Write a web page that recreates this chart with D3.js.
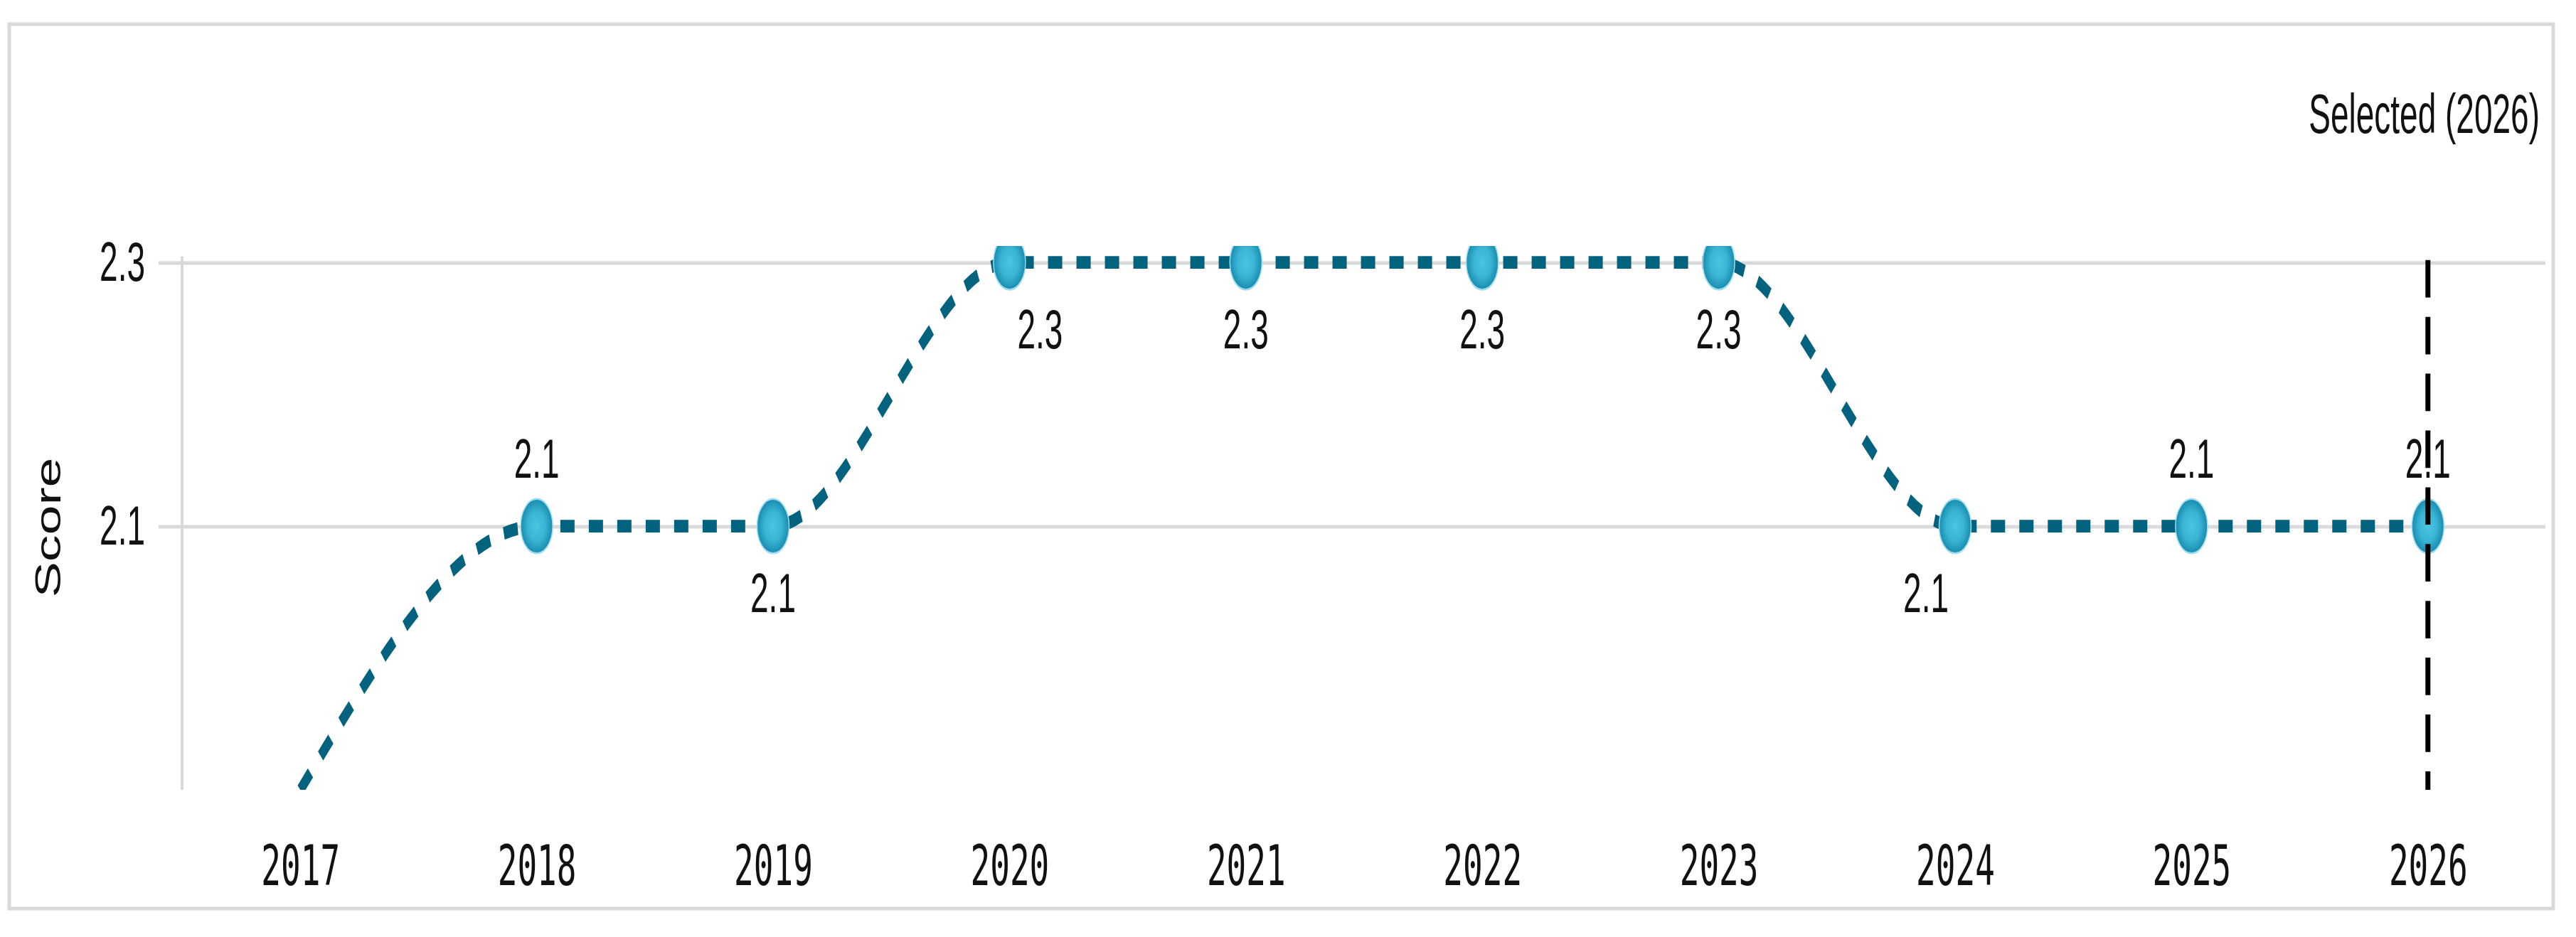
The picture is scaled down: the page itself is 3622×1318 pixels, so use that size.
<!DOCTYPE html>
<html>
<head>
<meta charset="utf-8">
<script src="https://cdn.jsdelivr.net/npm/d3@7"></script>
<style>
    html, body { margin: 0; padding: 0; background: #ffffff; }
    #viz { width: 3622px; height: 1318px; }
</style>
</head>
<body>
<div id="viz"></div>
<script>
// Chart data
const years = [2017, 2018, 2019, 2020, 2021, 2022, 2023, 2024, 2025, 2026];
const scores = [1.9, 2.1, 2.1, 2.3, 2.3, 2.3, 2.3, 2.1, 2.1, 2.1];
// where each value label sits relative to its point ("none" = off scale)
const labelSides = ["none", "above", "below", "below-right", "below", "below", "below", "below-left", "above", "above"];
const yTicks = [2.1, 2.3];
const selectedYear = 2026;
const yTitle = "Score";

// The picture is a normal chart stretched vertically, so draw in an
// unstretched space and let the viewBox do the stretching
const W = 3622, H = 1318, S = 1.7;
const VH = H / S;

const data = years.map((yr, i) => ({year: yr, score: scores[i], side: labelSides[i]}));

const svg = d3.select("#viz")
    .append("svg")
    .attr("width", W)
    .attr("height", H)
    .attr("viewBox", `0 0 ${W} ${VH}`)
    .attr("preserveAspectRatio", "none");

const defs = svg.append("defs");
const grad = defs.append("radialGradient")
    .attr("id", "dotGrad")
    .attr("cx", "50%").attr("cy", "50%").attr("r", "50%");
grad.append("stop").attr("offset", "0%").attr("stop-color", "#4dc5e2");
grad.append("stop").attr("offset", "55%").attr("stop-color", "#3ab3d5");
grad.append("stop").attr("offset", "100%").attr("stop-color", "#178bad");

// outer frame
svg.append("rect")
    .attr("x", 13)
    .attr("y", 34 / S)
    .attr("width", 3590 - 13)
    .attr("height", (1278 - 34) / S)
    .style("fill", "none")
    .style("stroke", "#d9d9d9")
    .style("stroke-width", 5)
    .attr("vector-effect", "non-scaling-stroke");

// scales
const xScale = d3.scalePoint()
    .domain(years)
    .range([256, 3580])
    .padding(0.5);

const yScale = d3.scaleLinear()
    .domain([1.9, 2.3125])
    .range([1111 / S, 346 / S]);

const plotTop = yScale.range()[1], plotBottom = yScale.range()[0];

// gridlines + y tick labels
const yAxis = svg.append("g")
    .attr("transform", "translate(223,0)")
    .call(d3.axisLeft(yScale)
        .tickValues(yTicks)
        .tickSizeInner(-(3579 - 223))
        .tickSizeOuter(0)
        .tickPadding(19)
        .tickFormat(d3.format(".1f")));
yAxis.select(".domain").remove();
yAxis.selectAll("line")
    .style("stroke", "#d9d9d9")
    .style("stroke-width", 5)
    .attr("vector-effect", "non-scaling-stroke");
yAxis.selectAll("text")
    .style("font-family", "'Liberation Sans', Arial, sans-serif")
    .style("font-size", "46px")
    .style("fill", "#111");

// y axis line
svg.append("line")
    .attr("x1", xScale.range()[0]).attr("x2", xScale.range()[0])
    .attr("y1", yScale(2.3) - 5).attr("y2", plotBottom)
    .style("stroke", "#d9d9d9")
    .style("stroke-width", 4);

// year labels
const xAxis = svg.append("g")
    .attr("transform", `translate(0,${plotBottom})`)
    .call(d3.axisBottom(xScale).tickSize(0).tickPadding(46));
xAxis.select(".domain").remove();
xAxis.selectAll("text")
    .style("font-family", "'DejaVu Sans Mono', monospace")
    .style("font-size", "46px")
    .style("fill", "#111");

// axis title
svg.append("text")
    .attr("transform", `translate(85,${742 / S}) rotate(-90)`)
    .attr("text-anchor", "middle")
    .attr("textLength", 116)
    .attr("lengthAdjust", "spacingAndGlyphs")
    .style("font-family", "'Liberation Sans', Arial, sans-serif")
    .style("font-size", "50px")
    .style("fill", "#111")
    .text(yTitle);

// clipped plot area
defs.append("clipPath")
    .attr("id", "plotClip")
    .append("rect")
    .attr("x", xScale.range()[0])
    .attr("y", plotTop)
    .attr("width", xScale.range()[1] - xScale.range()[0])
    .attr("height", plotBottom - plotTop);

const plot = svg.append("g").attr("clip-path", "url(#plotClip)");

const line = d3.line()
    .x(d => xScale(d.year))
    .y(d => yScale(d.score))
    .curve(d3.curveMonotoneX);

plot.append("path")
    .datum(data)
    .attr("d", line)
    .style("fill", "none")
    .style("stroke", "#03627e")
    .style("stroke-width", 10.5)
    .style("stroke-dasharray", "20 20");

const onScale = data.filter(d => d.score > yScale.domain()[0]);

plot.selectAll(".dot")
    .data(onScale)
    .join("circle")
    .attr("class", "dot")
    .attr("cx", d => xScale(d.year))
    .attr("cy", d => yScale(d.score))
    .attr("r", 22.5)
    .style("fill", "url(#dotGrad)")
    .style("stroke", "#9ddcee")
    .style("stroke-width", 1.5);

// value labels
svg.append("g")
    .selectAll("text")
    .data(onScale.filter(d => d.side !== "none"))
    .join("text")
    .attr("x", d => {
        const cx = xScale(d.year);
        if (d.side === "below-right") return cx + 11;
        if (d.side === "below-left") return cx - 9;
        return cx;
    })
    .attr("y", d => yScale(d.score) + (d.side === "above" ? -40 : 71))
    .attr("text-anchor", d => d.side === "below-right" ? "start" : (d.side === "below-left" ? "end" : "middle"))
    .style("font-family", "'Liberation Sans', Arial, sans-serif")
    .style("font-size", "46px")
    .style("fill", "#111")
    .text(d => d3.format(".1f")(d.score));

// selected year marker
svg.append("line")
    .attr("x1", xScale(selectedYear)).attr("x2", xScale(selectedYear))
    .attr("y1", yScale(2.3) - 2).attr("y2", plotBottom)
    .style("stroke", "#000")
    .style("stroke-width", 7)
    .style("stroke-dasharray", "31 16");

svg.append("text")
    .attr("x", xScale.range()[1] - 9)
    .attr("y", 187 / S)
    .attr("text-anchor", "end")
    .style("font-family", "'Liberation Sans', Arial, sans-serif")
    .style("font-size", "46px")
    .style("fill", "#111")
    .text(`Selected (${selectedYear})`);
</script>
</body>
</html>
